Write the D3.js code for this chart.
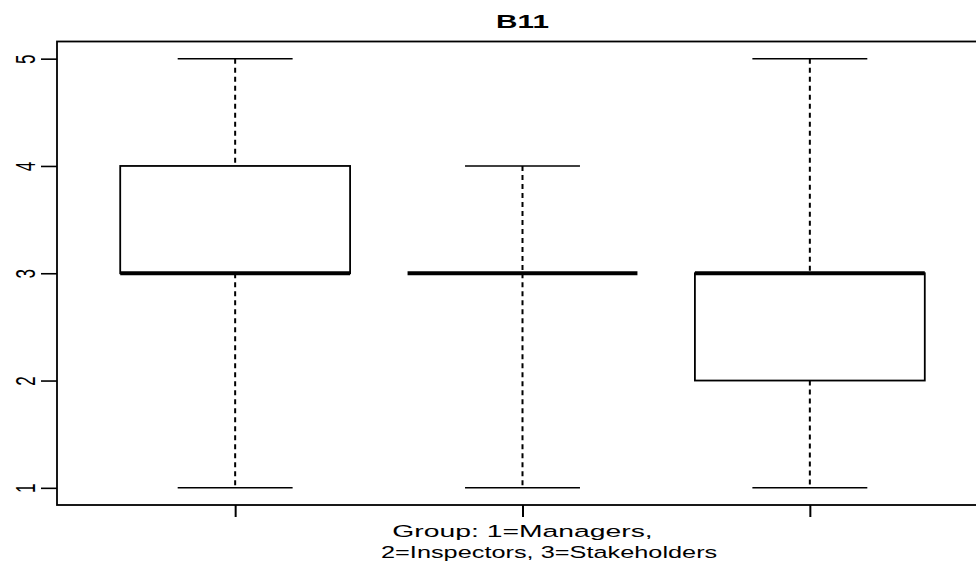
<!DOCTYPE html>
<html>
<head>
<meta charset="utf-8">
<script src="https://cdn.jsdelivr.net/npm/d3@7"></script>
<style>
  html, body { margin: 0; padding: 0; background: #fff; }
  svg text { font-family: "Liberation Sans", Arial, sans-serif; fill: #000; }
</style>
</head>
<body>
<svg id="chart" width="976" height="569"></svg>
<script>
// Five-number summaries for item B11, one per respondent group
const groups = [1, 2, 3];
const whiskerLow  = [1, 1, 1];
const boxLow      = [3, 3, 2];
const medians     = [3, 3, 3];
const boxHigh     = [4, 3, 3];
const whiskerHigh = [5, 4, 5];
const yTicks = [1, 2, 3, 4, 5];
const title = "B11";
const xLabelLines = ["Group: 1=Managers,", "2=Inspectors, 3=Stakeholders"];

const svg = d3.select("#chart");

// Text in this device is drawn wider than tall
const stretchX = 1.65;

// Plot region follows R's 4% axis extension on both axes
const x = d3.scaleLinear().domain([0.38, 3.62]).range([57, 988]);
const y = d3.scaleLinear().domain([0.84, 5.16]).range([505, 41.5]);

const unit = x(2) - x(1);
const boxW = 0.8 * unit;
const capW = 0.4 * unit;

const data = groups.map((g, i) => ({
  g, lo: whiskerLow[i], q1: boxLow[i], med: medians[i], q3: boxHigh[i], hi: whiskerHigh[i]
}));

const plot = svg.append("g");
const box = plot.selectAll("g.box").data(data).join("g").attr("class", "box");

// dashed whiskers
box.append("line")
  .attr("x1", d => x(d.g)).attr("x2", d => x(d.g))
  .attr("y1", d => y(d.hi)).attr("y2", d => y(d.q3))
  .attr("stroke", "#000").attr("stroke-width", 2).attr("stroke-dasharray", "5,4");
box.append("line")
  .attr("x1", d => x(d.g)).attr("x2", d => x(d.g))
  .attr("y1", d => y(d.q1)).attr("y2", d => y(d.lo))
  .attr("stroke", "#000").attr("stroke-width", 2).attr("stroke-dasharray", "5,4");

// whisker caps
box.append("line")
  .attr("x1", d => x(d.g) - capW / 2).attr("x2", d => x(d.g) + capW / 2)
  .attr("y1", d => y(d.hi)).attr("y2", d => y(d.hi))
  .attr("stroke", "#000").attr("stroke-width", 1.5);
box.append("line")
  .attr("x1", d => x(d.g) - capW / 2).attr("x2", d => x(d.g) + capW / 2)
  .attr("y1", d => y(d.lo)).attr("y2", d => y(d.lo))
  .attr("stroke", "#000").attr("stroke-width", 1.5);

// interquartile box
box.append("rect")
  .attr("x", d => x(d.g) - boxW / 2)
  .attr("width", boxW)
  .attr("y", d => y(d.q3))
  .attr("height", d => y(d.q1) - y(d.q3))
  .attr("fill", "#fff").attr("stroke", "#000").attr("stroke-width", 1.8);

// median
box.append("line")
  .attr("x1", d => x(d.g) - boxW / 2).attr("x2", d => x(d.g) + boxW / 2)
  .attr("y1", d => y(d.med)).attr("y2", d => y(d.med))
  .attr("stroke", "#000").attr("stroke-width", 4);

// y axis with labels parallel to the axis
const yAxis = d3.axisLeft(y).tickValues(yTicks).tickSize(16).tickFormat(d3.format("d"));
const gy = svg.append("g").attr("transform", "translate(57,0)").call(yAxis);
gy.select(".domain").remove();
gy.selectAll(".tick line").attr("stroke", "#000").attr("stroke-width", 1.6);
gy.selectAll(".tick text")
  .attr("x", 0).attr("dy", null).attr("dx", null)
  .attr("text-anchor", "middle")
  .attr("transform", `translate(-22,0) scale(${stretchX},1) rotate(-90)`)
  .style("font-size", "17px");

// x axis: unlabeled group ticks
const xAxis = d3.axisBottom(x).tickValues(groups).tickSize(12).tickFormat("");
const gx = svg.append("g").attr("transform", "translate(0,505)").call(xAxis);
gx.select(".domain").remove();
gx.selectAll(".tick line").attr("stroke", "#000").attr("stroke-width", 2);

// plot frame
svg.append("rect")
  .attr("x", x.range()[0]).attr("y", y.range()[1])
  .attr("width", x.range()[1] - x.range()[0])
  .attr("height", y.range()[0] - y.range()[1])
  .attr("fill", "none").attr("stroke", "#000").attr("stroke-width", 1.8);

// title
svg.append("text")
  .attr("transform", `translate(${x(2)},28) scale(${stretchX},1)`)
  .attr("text-anchor", "middle")
  .style("font-size", "18px").style("font-weight", "bold")
  .text(title);

// x label (two lines)
svg.append("text")
  .attr("transform", `translate(${x(2)},537) scale(${stretchX * 1.04},1)`)
  .attr("text-anchor", "middle")
  .style("font-size", "16.5px")
  .text(xLabelLines[0]);
svg.append("text")
  .attr("transform", `translate(381,558) scale(${stretchX * 0.93},1)`)
  .attr("text-anchor", "start")
  .style("font-size", "16.5px")
  .text(xLabelLines[1]);
</script>
</body>
</html>
